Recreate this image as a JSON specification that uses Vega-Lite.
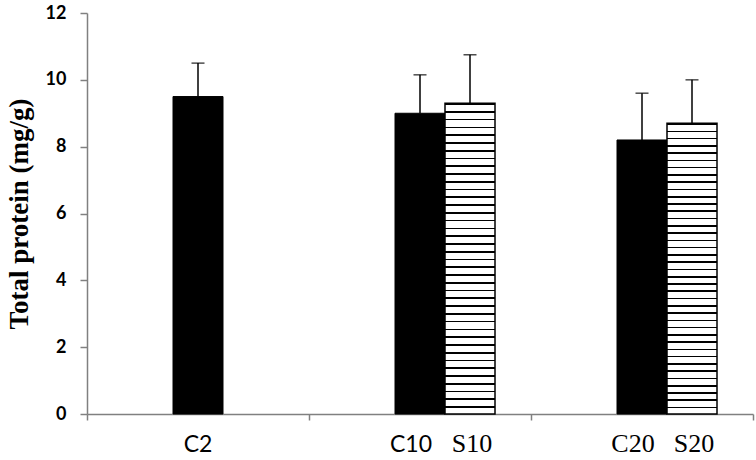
{
  "$schema": "https://vega.github.io/schema/vega-lite/v6.json",
  "width": 666,
  "height": 401,
  "autosize": "none",
  "padding": {"left": 87, "top": 13, "right": 3, "bottom": 46},
  "background": "white",
  "config": {"view": {"stroke": null}},
  "data": {"values": [
    {"group": "G1", "series": "C", "label": "C2", "value": 9.5, "upper": 10.5},
    {"group": "G2", "series": "C", "label": "C10", "value": 9.0, "upper": 10.15},
    {"group": "G2", "series": "S", "label": "S10", "value": 9.3, "upper": 10.75},
    {"group": "G3", "series": "C", "label": "C20", "value": 8.2, "upper": 9.6},
    {"group": "G3", "series": "S", "label": "S20", "value": 8.7, "upper": 10.0}
  ]},
  "encoding": {
    "x": {"field": "group", "type": "nominal", "scale": {"domain": ["G1", "G2", "G3"], "paddingInner": 0, "paddingOuter": 0},
      "axis": {"title": null, "labels": false, "tickBand": "extent", "domainColor": "#808080", "domainWidth": 1.5, "tickColor": "#808080", "tickWidth": 1.5, "tickSize": 6}},
    "xOffset": {"field": "series", "type": "nominal", "scale": {"domain": ["L", "C", "S"], "paddingInner": 0, "paddingOuter": 0.72}}
  },
  "layer": [
    {
      "transform": [{"filter": "datum.series == 'C'"}],
      "mark": {"type": "bar", "fill": "black", "stroke": "black", "strokeWidth": 1},
      "encoding": {
        "y": {"field": "value", "type": "quantitative", "scale": {"domain": [0, 12]},
          "axis": {"title": "Total protein (mg/g)", "values": [0, 2, 4, 6, 8, 10, 12], "grid": false,
            "domainColor": "#808080", "domainWidth": 1.5, "tickColor": "#808080", "tickWidth": 1.5, "tickSize": 7,
            "labelFont": "Lato", "labelFontWeight": "bold", "labelFontSize": 18, "labelColor": "black", "labelPadding": 14,
            "titleFont": "Liberation Serif", "titleFontWeight": "bold", "titleFontSize": 27, "titleColor": "black", "titlePadding": 12}}
      }
    },
    {
      "transform": [{"filter": "datum.series == 'S'"}],
      "mark": {"type": "bar", "stroke": "black", "strokeWidth": 1.5,
        "fill": {"gradient": "linear", "x1": 0, "y1": 0, "x2": 0, "y2": 1, "stops": [
          {"offset": 0, "color": "black"}, {"offset": 0.0055, "color": "black"}, {"offset": 0.0055, "color": "white"}, {"offset": 0.025, "color": "white"},
          {"offset": 0.025, "color": "black"}, {"offset": 0.0305, "color": "black"}, {"offset": 0.0305, "color": "white"}, {"offset": 0.05, "color": "white"},
          {"offset": 0.05, "color": "black"}, {"offset": 0.0555, "color": "black"}, {"offset": 0.0555, "color": "white"}, {"offset": 0.075, "color": "white"},
          {"offset": 0.075, "color": "black"}, {"offset": 0.0805, "color": "black"}, {"offset": 0.0805, "color": "white"}, {"offset": 0.1, "color": "white"},
          {"offset": 0.1, "color": "black"}, {"offset": 0.1055, "color": "black"}, {"offset": 0.1055, "color": "white"}, {"offset": 0.125, "color": "white"},
          {"offset": 0.125, "color": "black"}, {"offset": 0.1305, "color": "black"}, {"offset": 0.1305, "color": "white"}, {"offset": 0.15, "color": "white"},
          {"offset": 0.15, "color": "black"}, {"offset": 0.1555, "color": "black"}, {"offset": 0.1555, "color": "white"}, {"offset": 0.175, "color": "white"},
          {"offset": 0.175, "color": "black"}, {"offset": 0.1805, "color": "black"}, {"offset": 0.1805, "color": "white"}, {"offset": 0.2, "color": "white"},
          {"offset": 0.2, "color": "black"}, {"offset": 0.2055, "color": "black"}, {"offset": 0.2055, "color": "white"}, {"offset": 0.225, "color": "white"},
          {"offset": 0.225, "color": "black"}, {"offset": 0.2305, "color": "black"}, {"offset": 0.2305, "color": "white"}, {"offset": 0.25, "color": "white"},
          {"offset": 0.25, "color": "black"}, {"offset": 0.2555, "color": "black"}, {"offset": 0.2555, "color": "white"}, {"offset": 0.275, "color": "white"},
          {"offset": 0.275, "color": "black"}, {"offset": 0.2805, "color": "black"}, {"offset": 0.2805, "color": "white"}, {"offset": 0.3, "color": "white"},
          {"offset": 0.3, "color": "black"}, {"offset": 0.3055, "color": "black"}, {"offset": 0.3055, "color": "white"}, {"offset": 0.325, "color": "white"},
          {"offset": 0.325, "color": "black"}, {"offset": 0.3305, "color": "black"}, {"offset": 0.3305, "color": "white"}, {"offset": 0.35, "color": "white"},
          {"offset": 0.35, "color": "black"}, {"offset": 0.3555, "color": "black"}, {"offset": 0.3555, "color": "white"}, {"offset": 0.375, "color": "white"},
          {"offset": 0.375, "color": "black"}, {"offset": 0.3805, "color": "black"}, {"offset": 0.3805, "color": "white"}, {"offset": 0.4, "color": "white"},
          {"offset": 0.4, "color": "black"}, {"offset": 0.4055, "color": "black"}, {"offset": 0.4055, "color": "white"}, {"offset": 0.425, "color": "white"},
          {"offset": 0.425, "color": "black"}, {"offset": 0.4305, "color": "black"}, {"offset": 0.4305, "color": "white"}, {"offset": 0.45, "color": "white"},
          {"offset": 0.45, "color": "black"}, {"offset": 0.4555, "color": "black"}, {"offset": 0.4555, "color": "white"}, {"offset": 0.475, "color": "white"},
          {"offset": 0.475, "color": "black"}, {"offset": 0.4805, "color": "black"}, {"offset": 0.4805, "color": "white"}, {"offset": 0.5, "color": "white"},
          {"offset": 0.5, "color": "black"}, {"offset": 0.5055, "color": "black"}, {"offset": 0.5055, "color": "white"}, {"offset": 0.525, "color": "white"},
          {"offset": 0.525, "color": "black"}, {"offset": 0.5305, "color": "black"}, {"offset": 0.5305, "color": "white"}, {"offset": 0.55, "color": "white"},
          {"offset": 0.55, "color": "black"}, {"offset": 0.5555, "color": "black"}, {"offset": 0.5555, "color": "white"}, {"offset": 0.575, "color": "white"},
          {"offset": 0.575, "color": "black"}, {"offset": 0.5805, "color": "black"}, {"offset": 0.5805, "color": "white"}, {"offset": 0.6, "color": "white"},
          {"offset": 0.6, "color": "black"}, {"offset": 0.6055, "color": "black"}, {"offset": 0.6055, "color": "white"}, {"offset": 0.625, "color": "white"},
          {"offset": 0.625, "color": "black"}, {"offset": 0.6305, "color": "black"}, {"offset": 0.6305, "color": "white"}, {"offset": 0.65, "color": "white"},
          {"offset": 0.65, "color": "black"}, {"offset": 0.6555, "color": "black"}, {"offset": 0.6555, "color": "white"}, {"offset": 0.675, "color": "white"},
          {"offset": 0.675, "color": "black"}, {"offset": 0.6805, "color": "black"}, {"offset": 0.6805, "color": "white"}, {"offset": 0.7, "color": "white"},
          {"offset": 0.7, "color": "black"}, {"offset": 0.7055, "color": "black"}, {"offset": 0.7055, "color": "white"}, {"offset": 0.725, "color": "white"},
          {"offset": 0.725, "color": "black"}, {"offset": 0.7305, "color": "black"}, {"offset": 0.7305, "color": "white"}, {"offset": 0.75, "color": "white"},
          {"offset": 0.75, "color": "black"}, {"offset": 0.7555, "color": "black"}, {"offset": 0.7555, "color": "white"}, {"offset": 0.775, "color": "white"},
          {"offset": 0.775, "color": "black"}, {"offset": 0.7805, "color": "black"}, {"offset": 0.7805, "color": "white"}, {"offset": 0.8, "color": "white"},
          {"offset": 0.8, "color": "black"}, {"offset": 0.8055, "color": "black"}, {"offset": 0.8055, "color": "white"}, {"offset": 0.825, "color": "white"},
          {"offset": 0.825, "color": "black"}, {"offset": 0.8305, "color": "black"}, {"offset": 0.8305, "color": "white"}, {"offset": 0.85, "color": "white"},
          {"offset": 0.85, "color": "black"}, {"offset": 0.8555, "color": "black"}, {"offset": 0.8555, "color": "white"}, {"offset": 0.875, "color": "white"},
          {"offset": 0.875, "color": "black"}, {"offset": 0.8805, "color": "black"}, {"offset": 0.8805, "color": "white"}, {"offset": 0.9, "color": "white"},
          {"offset": 0.9, "color": "black"}, {"offset": 0.9055, "color": "black"}, {"offset": 0.9055, "color": "white"}, {"offset": 0.925, "color": "white"},
          {"offset": 0.925, "color": "black"}, {"offset": 0.9305, "color": "black"}, {"offset": 0.9305, "color": "white"}, {"offset": 0.95, "color": "white"},
          {"offset": 0.95, "color": "black"}, {"offset": 0.9555, "color": "black"}, {"offset": 0.9555, "color": "white"}, {"offset": 0.975, "color": "white"},
          {"offset": 0.975, "color": "black"}, {"offset": 0.9805, "color": "black"}, {"offset": 0.9805, "color": "white"}, {"offset": 1, "color": "white"}
        ]}},
      "encoding": {
        "y": {"field": "value", "type": "quantitative"}
      }
    },
    {
      "mark": {"type": "rule", "color": "black", "strokeWidth": 1.5},
      "encoding": {
        "y": {"field": "value", "type": "quantitative"},
        "y2": {"field": "upper"}
      }
    },
    {
      "mark": {"type": "tick", "color": "black", "thickness": 1.5, "size": 13, "orient": "horizontal"},
      "encoding": {
        "y": {"field": "upper", "type": "quantitative"}
      }
    },
    {
      "transform": [{"filter": "datum.label == 'C2'"}],
      "mark": {"type": "text", "font": "Lato", "fontSize": 23, "color": "black", "baseline": "alphabetic", "dy": 38},
      "encoding": {
        "y": {"datum": 0, "type": "quantitative"},
        "text": {"field": "label"}
      }
    },
    {
      "transform": [{"filter": "datum.label == 'C10'"}],
      "mark": {"type": "text", "font": "Lato", "fontSize": 23, "color": "black", "baseline": "alphabetic", "dy": 38, "dx": -9},
      "encoding": {
        "y": {"datum": 0, "type": "quantitative"},
        "text": {"field": "label"}
      }
    },
    {
      "transform": [{"filter": "datum.label == 'C20'"}],
      "mark": {"type": "text", "font": "Liberation Serif", "fontSize": 26, "color": "black", "baseline": "alphabetic", "dy": 38, "dx": -9},
      "encoding": {
        "y": {"datum": 0, "type": "quantitative"},
        "text": {"field": "label"}
      }
    },
    {
      "transform": [{"filter": "datum.series == 'S'"}],
      "mark": {"type": "text", "font": "Liberation Serif", "fontSize": 26, "color": "black", "baseline": "alphabetic", "dy": 38, "dx": 2},
      "encoding": {
        "y": {"datum": 0, "type": "quantitative"},
        "text": {"field": "label"}
      }
    }
  ]
}
